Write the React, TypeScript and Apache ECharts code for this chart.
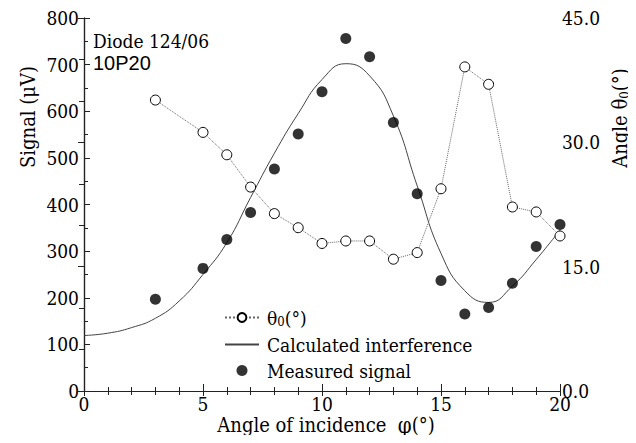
import React, { useEffect, useRef } from "react";
import * as echarts from "echarts";

const measuredX = [3, 5, 6, 7, 8, 9, 10, 11, 12, 13, 14, 15, 16, 17, 18, 19, 20];
const measuredSignal = [197, 263, 325, 383, 476, 551, 642, 756, 717, 576, 423, 237, 165, 179, 231, 310, 357];
const thetaX = [3, 5, 6, 7, 8, 9, 10, 11, 12, 13, 14, 15, 16, 17, 18, 19, 20];
const thetaValues = [35.1, 31.2, 28.5, 24.6, 21.4, 19.7, 17.8, 18.1, 18.1, 15.9, 16.7, 24.4, 39.1, 37.0, 22.2, 21.6, 18.7];
const calcX = [0, 1, 2, 3, 4, 5, 6, 7, 8, 9, 10, 11, 12, 13, 14, 15, 16, 17, 18, 19, 20];
const calcSignal = [119, 124, 136, 156, 193, 250, 318, 415, 510, 595, 668, 702, 676, 590, 440, 295, 215, 190, 225, 282, 345];

const SERIF = "DejaVu Serif Condensed, DejaVu Serif";

export default function App() {
  const ref = useRef<HTMLDivElement>(null);
  useEffect(() => {
    if (!ref.current) return;
    const chart = echarts.init(ref.current, null, { renderer: "svg" });
    const pair = (xs: number[], ys: number[]) => xs.map((x, i) => [x, ys[i]]);
    const axisColor = "#222";
    chart.setOption({
      animation: false,
      backgroundColor: "#fff",
      grid: { left: 84, right: 76, top: 18, bottom: 52 },
      xAxis: [
        {
          type: "value", min: 0, max: 20, interval: 5, position: "bottom",
          axisLine: { show: true, lineStyle: { color: axisColor, width: 1.2 } },
          axisTick: { show: true, inside: true, length: 7, lineStyle: { color: axisColor } },
          minorTick: { show: true, splitNumber: 5, length: 4, lineStyle: { color: axisColor } },
          splitLine: { show: false },
          axisLabel: { color: "#000", fontFamily: SERIF, fontSize: 19, margin: 4, lineHeight: 18 },
        },
        {
          type: "value", min: 0, max: 20, interval: 5, position: "top",
          axisLine: { show: true, lineStyle: { color: axisColor, width: 1.2 } },
          axisTick: { show: true, inside: true, length: 5, lineStyle: { color: axisColor } },
          minorTick: { show: true, splitNumber: 5, length: 4, lineStyle: { color: axisColor } },
          splitLine: { show: false },
          axisLabel: { show: false },
        },
      ],
      yAxis: [
        {
          type: "value", min: 0, max: 800, interval: 100, position: "left",
          axisLine: { show: true, lineStyle: { color: axisColor, width: 1.2 } },
          axisTick: { show: true, inside: true, length: 6, lineStyle: { color: axisColor } },
          minorTick: { show: true, splitNumber: 2, length: 4, lineStyle: { color: axisColor } },
          splitLine: { show: false },
          axisLabel: { color: "#000", fontFamily: SERIF, fontSize: 19, margin: 5 },
        },
        {
          type: "value", min: 0, max: 45, interval: 15, position: "right",
          axisLine: { show: true, lineStyle: { color: axisColor, width: 1.2 } },
          axisTick: { show: true, inside: true, length: 6, lineStyle: { color: axisColor } },
          minorTick: { show: true, splitNumber: 3, length: 5, lineStyle: { color: axisColor } },
          splitLine: { show: false },
          axisLabel: { color: "#000", fontFamily: SERIF, fontSize: 19, margin: 2, formatter: (v: number) => v.toFixed(1) },
        },
      ],
      legend: {
        orient: "vertical", left: 219, top: 303, itemWidth: 34, itemHeight: 11, itemGap: 7,
        data: [
          { name: "theta" },
          { name: "Calculated interference", itemStyle: { opacity: 0 } },
          { name: "Measured signal" },
        ],
        formatter: (name: string) => (name === "theta" ? "{t|θ}{s|0}{t|(°)}" : name),
        textStyle: {
          color: "#000", fontFamily: SERIF, fontSize: 19, padding: [0, 0, 0, 3],
          rich: {
            t: { fontFamily: SERIF, fontSize: 19, color: "#000" },
            s: { fontFamily: SERIF, fontSize: 13, color: "#000", padding: [8, 0, 0, 0] },
          },
        },
      },
      series: [
        {
          name: "theta", type: "line", yAxisIndex: 1, z: 4,
          data: pair(thetaX, thetaValues),
          symbol: "circle", symbolSize: 10, showSymbol: true,
          itemStyle: { color: "#fff", borderColor: "#000", borderWidth: 1 },
          lineStyle: { color: "#666", width: 1, type: "dotted" },
        },
        {
          name: "Calculated interference", type: "line", yAxisIndex: 0, z: 2,
          data: pair(calcX, calcSignal), smooth: 0.5, showSymbol: false, symbol: "none",
          lineStyle: { color: "#444", width: 1 },
          itemStyle: { color: "#444" },
        },
        {
          name: "Measured signal", type: "scatter", yAxisIndex: 0, z: 3,
          data: pair(measuredX, measuredSignal), symbol: "circle", symbolSize: 11,
          itemStyle: { color: "#000" },
        },
      ],
      graphic: [
        { type: "text", left: 93, top: 31, style: { text: "Diode 124/06", fontFamily: SERIF, fontSize: 19, fill: "#000" } },
        { type: "text", left: 93, top: 53, style: { text: "10P20", fontFamily: "Liberation Sans", fontSize: 20, fill: "#000" } },
        {
          type: "text", x: 28, y: 117, rotation: Math.PI / 2,
          style: { text: "Signal (μV)", fontFamily: SERIF, fontSize: 20, fill: "#000", align: "center", verticalAlign: "middle" },
        },
        {
          type: "text", x: 620, y: 118, rotation: Math.PI / 2,
          style: {
            text: "{t|Angle θ}{s|0}{t|(°)}", align: "center", verticalAlign: "middle",
            rich: {
              t: { fontFamily: SERIF, fontSize: 20, fill: "#000", color: "#000" },
              s: { fontFamily: SERIF, fontSize: 13, fill: "#000", color: "#000", padding: [8, 0, 0, 0] },
            },
          },
        },
        {
          type: "text", x: 326, y: 425,
          style: {
            text: "{t|Angle of incidence  }{p|φ}{t|(°)}", align: "center", verticalAlign: "middle",
            rich: {
              t: { fontFamily: SERIF, fontSize: 20, fill: "#000", color: "#000" },
              p: { fontFamily: SERIF, fontSize: 22, fill: "#000", color: "#000" },
            },
          },
        },
      ],
    });
    return () => chart.dispose();
  }, []);
  return <div ref={ref} style={{ width: 636, height: 443, margin: -8 }} />;
}
